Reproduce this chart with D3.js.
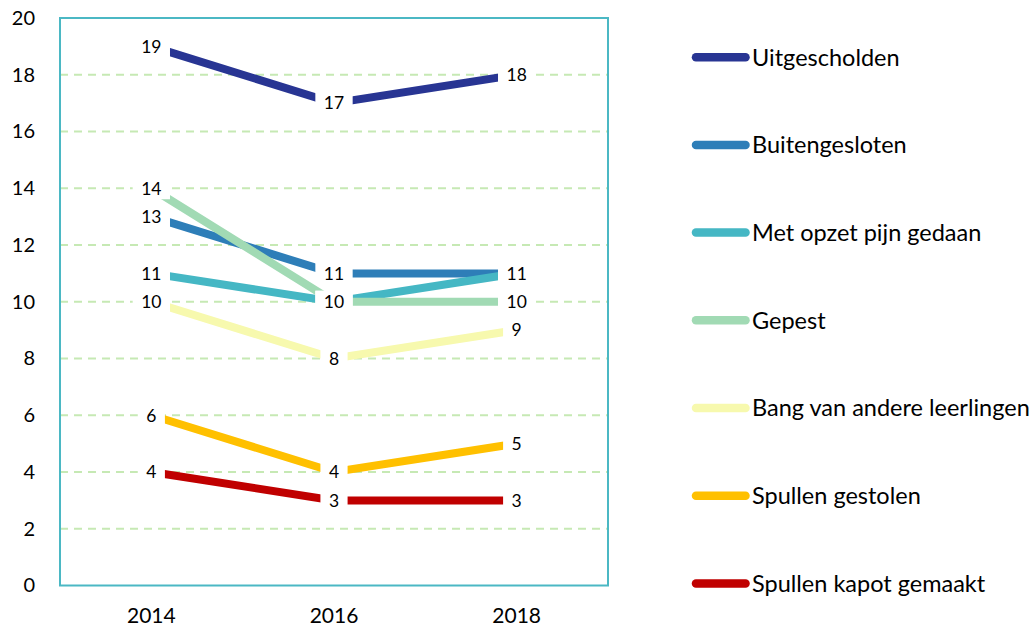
<!DOCTYPE html>
<html>
<head>
<meta charset="utf-8">
<script src="https://cdn.jsdelivr.net/npm/d3@7"></script>
<style>
  body { margin: 0; background: #fff; }
  svg text { font-family: Lato, "Noto Sans", sans-serif; fill: #000; }
</style>
</head>
<body>
<script>
let years = ["2014", "2016", "2018"];
let seriesNames = ["Uitgescholden", "Buitengesloten", "Met opzet pijn gedaan", "Gepest",
                   "Bang van andere leerlingen", "Spullen gestolen", "Spullen kapot gemaakt"];
let uitgescholden = [19, 17, 18];
let buitengesloten = [13, 11, 11];
let metOpzet = [11, 10, 11];
let gepest = [14, 10, 10];
let bang = [10, 8, 9];
let gestolen = [6, 4, 5];
let kapot = [4, 3, 3];
let yTicks = [0, 2, 4, 6, 8, 10, 12, 14, 16, 18, 20];

let colors = ["#283593", "#2E7EB8", "#45B7C4", "#A1DAB4", "#F7F9AE", "#FFC000", "#C00000"];

let w = 1033, h = 628;
let padLeft = 60, padRight = 608, padTop = 18, padBottom = 585.5;

let allValues = [uitgescholden, buitengesloten, metOpzet, gepest, bang, gestolen, kapot];
let series = seriesNames.map((name, i) => ({
  name: name,
  color: colors[i],
  values: allValues[i].map((v, j) => ({ year: years[j], value: v }))
}));

let svg = d3.select("body").append("svg")
  .attr("width", w)
  .attr("height", h);

let xScale = d3.scaleBand().domain(years).range([padLeft, padRight]);
let yScale = d3.scaleLinear().domain([0, 20]).range([padBottom, padTop]);

// gridlines
svg.append("g")
  .selectAll("line")
  .data(yTicks.filter(t => t > 0 && t < 20))
  .enter().append("line")
  .attr("x1", padLeft).attr("x2", padRight)
  .attr("y1", d => yScale(d)).attr("y2", d => yScale(d))
  .attr("stroke", "#C6E9B4")
  .attr("stroke-width", 2)
  .attr("stroke-dasharray", "8,6");

// y axis labels
let yAxis = d3.axisLeft(yScale).tickValues(yTicks).tickSize(0).tickPadding(25);
let yg = svg.append("g")
  .attr("transform", "translate(" + padLeft + ",0)")
  .call(yAxis);
yg.select(".domain").remove();
yg.selectAll("text").style("font-size", "20px").style("font-family", "Lato, sans-serif").attr("fill", "#000");

// x axis labels
let xAxis = d3.axisBottom(xScale).tickSize(0).tickPadding(23);
let xg = svg.append("g")
  .attr("transform", "translate(0," + padBottom + ")")
  .call(xAxis);
xg.select(".domain").remove();
xg.selectAll("text").style("font-size", "21px").style("font-family", "Lato, sans-serif").attr("fill", "#000");

// lines
let line = d3.line()
  .x(d => xScale(d.year) + xScale.bandwidth() / 2)
  .y(d => yScale(d.value));

svg.append("g")
  .selectAll("path")
  .data(series)
  .enter().append("path")
  .attr("d", d => line(d.values))
  .attr("fill", "none")
  .attr("stroke", d => d.color)
  .attr("stroke-width", 8);

// data labels with white boxes
let labels = svg.append("g")
  .selectAll("g")
  .data(series.flatMap(s => s.values))
  .enter().append("g")
  .attr("transform", d => "translate(" + (xScale(d.year) + xScale.bandwidth() / 2) + "," + yScale(d.value) + ")");

labels.append("text")
  .attr("text-anchor", "middle")
  .attr("dy", "0.36em")
  .style("font-size", "17.5px")
  .text(d => d.value);

labels.each(function () {
  let g = d3.select(this);
  let bb = g.select("text").node().getBBox();
  g.insert("rect", "text")
    .attr("x", bb.x - 8.5)
    .attr("y", -11)
    .attr("width", bb.width + 17)
    .attr("height", 22)
    .attr("fill", "#fff");
});

// plot border
svg.append("rect")
  .attr("x", padLeft).attr("y", padTop)
  .attr("width", padRight - padLeft).attr("height", padBottom - padTop)
  .attr("fill", "none")
  .attr("stroke", "#4BB8C4")
  .attr("stroke-width", 2);

// legend
let legend = svg.append("g")
  .selectAll("g")
  .data(series)
  .enter().append("g")
  .attr("transform", (d, i) => "translate(696," + (57.2 + i * 87.7) + ")");

legend.append("line")
  .attr("x1", 0).attr("x2", 49.5)
  .attr("stroke", d => d.color)
  .attr("stroke-width", 8.5)
  .attr("stroke-linecap", "round");

legend.append("text")
  .attr("x", 56)
  .attr("dy", "0.36em")
  .style("font-size", "23.5px")
  .text(d => d.name);
</script>
</body>
</html>
